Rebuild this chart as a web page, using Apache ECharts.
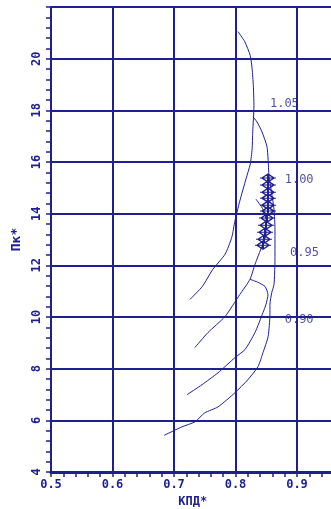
<!DOCTYPE html>
<html><head><meta charset="utf-8">
<script src="https://cdn.jsdelivr.net/npm/echarts@6/dist/echarts.min.js"></script>
<style>html,body{margin:0;padding:0;background:#fff}#c{width:331px;height:509px}</style>
</head><body><div id="c"></div>
<script>
// x: efficiency (КПД*), y: pressure ratio (Пк*)
const speedLineA = [[0.804,21.05],[0.815,20.66],[0.824,20.12],[0.827,19.61],[0.829,18.95],[0.830,18.17],[0.828,17.17],[0.827,16.50],[0.824,15.92],[0.817,15.34],[0.807,14.49],[0.799,13.71],[0.794,13.09],[0.783,12.43],[0.763,11.84],[0.746,11.18],[0.726,10.68]];
const speedLineB = [[0.8285,17.75],[0.835,17.55],[0.843,17.17],[0.851,16.62],[0.853,16.12],[0.8545,15.46],[0.859,14.76],[0.8626,14.17],[0.8642,13.40],[0.8642,12.23],[0.8626,11.26],[0.859,10.95],[0.856,10.49],[0.856,10.10],[0.853,9.24],[0.8447,8.62],[0.8366,8.08],[0.820,7.57],[0.7992,7.07],[0.7715,6.52],[0.750,6.29],[0.734,5.94],[0.713,5.75],[0.684,5.42]];
const speedLineC = [[0.8333,14.56],[0.8447,14.17],[0.8496,13.79],[0.8496,13.20],[0.843,12.74],[0.8317,12.04],[0.8236,11.46],[0.807,10.87],[0.783,10.02],[0.7553,9.40],[0.734,8.82]];
const speedLineD = [[0.8236,11.46],[0.8366,11.34],[0.848,11.18],[0.8528,10.87],[0.8496,10.49],[0.8447,10.17],[0.8317,9.40],[0.8154,8.74],[0.7992,8.43],[0.7715,7.84],[0.7455,7.38],[0.7211,6.99]];
const pointsX = [0.8528,0.8528,0.8528,0.8528,0.8528,0.8528,0.8512,0.8496,0.848,0.8463,0.8447];
const pointsY = [15.38,15.11,14.83,14.60,14.33,14.10,13.83,13.55,13.28,13.01,12.78];
const speedLabels = ['1.05','1.00','0.95','0.90'];
const speedLabelX = [0.856,0.880,0.8886,0.880];
const speedLabelY = [18.25,15.30,12.47,9.90];
const xTicks = [0.5,0.6,0.7,0.8,0.9];
const xName = 'КПД*', yName = 'Пк*';

const C = '#1f1f8f';
const mono = 'DejaVu Sans Mono';
const chart = echarts.init(document.getElementById('c'));
const lineS = d => ({type:'line', data:d, symbol:'none', smooth:0.2, lineStyle:{color:C,width:1}, silent:true, animation:false});
chart.setOption({
  backgroundColor:'#ffffff',
  animation:false,
  grid:{left:51, top:7, bottom:37, right:-27.5, outerBoundsMode:'none', containLabel:false},
  xAxis:{type:'value', min:0.5, max:1.0, interval:0.1,
    name:xName, nameLocation:'middle', nameGap:20,
    nameTextStyle:{color:C, fontFamily:mono, fontSize:12, fontWeight:'bold', padding:[0,24,0,0]},
    axisLine:{show:true, onZero:false, lineStyle:{color:C, width:3}},
    axisTick:{show:true, length:5, lineStyle:{color:C, width:1.5}},
    minorTick:{show:true, splitNumber:5, length:5, lineStyle:{color:C, width:1.5}},
    splitLine:{show:true, lineStyle:{color:C, width:2}},
    axisLabel:{color:C, fontFamily:mono, fontSize:12, fontWeight:'bold', margin:7,
      formatter:v=>{const t=xTicks.find(a=>Math.abs(a-v)<1e-6);return t===undefined?'':t.toFixed(1);}}
  },
  yAxis:{type:'value', min:4, max:22, interval:2,
    name:yName, nameLocation:'middle', nameGap:28, nameRotate:90,
    nameTextStyle:{color:C, fontFamily:mono, fontSize:13, fontWeight:'bold'},
    axisLine:{show:true, onZero:false, lineStyle:{color:C, width:2}},
    axisTick:{show:true, length:5, lineStyle:{color:C, width:1.5}},
    minorTick:{show:true, splitNumber:5, length:5, lineStyle:{color:C, width:1.5}},
    splitLine:{show:true, lineStyle:{color:C, width:2}},
    axisLabel:{color:C, fontFamily:mono, fontSize:12, fontWeight:'bold', rotate:90, margin:8, showMaxLabel:false}
  },
  series:[
    lineS(speedLineA), lineS(speedLineB), lineS(speedLineC), lineS(speedLineD),
    {type:'scatter', silent:true, animation:false,
      data: pointsX.map((x,i)=>[x,pointsY[i]]),
      symbol:'path://M0,5 L9,0 L18,5 L9,10 Z M-3,5 L21,5 M9,0 L9,10',
      symbolSize:[16,8],
      itemStyle:{color:'rgba(0,0,0,0)', borderColor:C, borderWidth:1.4, opacity:1}
    },
    {type:'scatter', silent:true, animation:false, symbolSize:0,
      data: speedLabels.map((n,i)=>({name:n, value:[speedLabelX[i], speedLabelY[i]]})),
      label:{show:true, position:'right', distance:0, formatter:p=>p.name, color:C, fontFamily:mono, fontSize:12}
    }
  ]
});
</script></body></html>
